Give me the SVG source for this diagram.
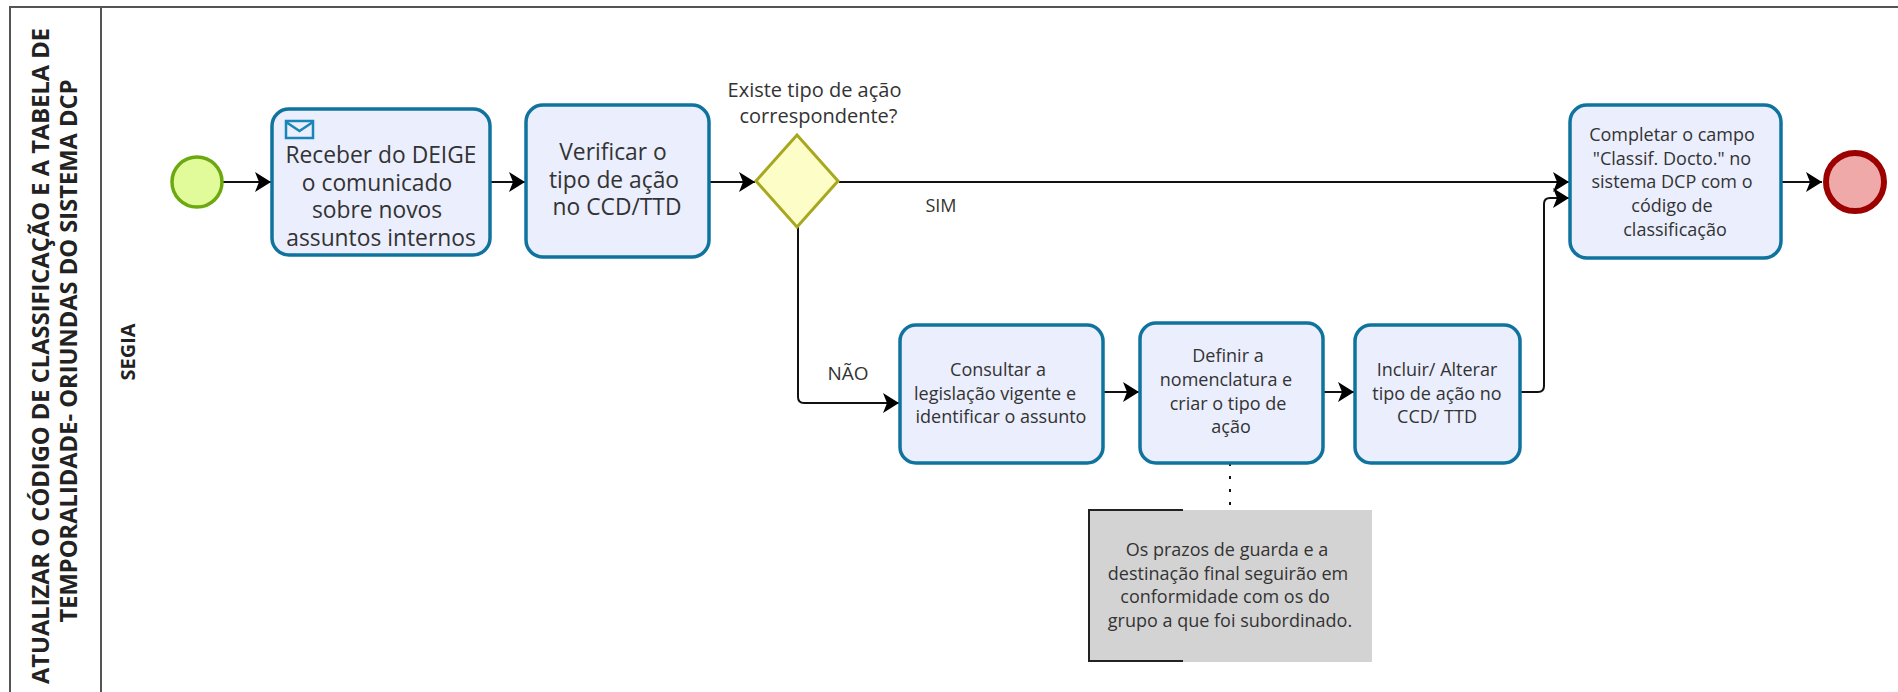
<svg xmlns="http://www.w3.org/2000/svg" width="1898" height="692" viewBox="0 0 1898 692">
<style>
text{font-family:"Open Sans","Noto Sans","Liberation Sans",sans-serif;fill:#333;text-anchor:middle}
.task{fill:#eaeefd;stroke:#10739e;stroke-width:3.5}
.c{fill:none;stroke:#111;stroke-width:2}
.t15{font-size:18px}.t16{font-size:20px}.t18{font-size:22.800px}
.b{font-weight:700;fill:#222}
</style>
<defs>
<marker id="arrow" markerUnits="userSpaceOnUse" markerWidth="18" markerHeight="22" refX="17" refY="11" orient="auto">
<path d="M1 1L17 11L1 21L5 11Z" fill="#000"/>
</marker>
</defs>
<rect width="1898" height="692" fill="#fff"/>
<g id="pool" fill="none" stroke="#555" stroke-width="2">
<path d="M1898 7H10V692"/>
<path d="M101 7V692"/>
</g>
<text class="b" font-size="23.700" transform="translate(49 356) rotate(-90)">ATUALIZAR O CÓDIGO DE CLASSIFICAÇÃO E A TABELA DE</text>
<text class="b" font-size="23.700" transform="translate(77 351) rotate(-90)">TEMPORALIDADE-  ORIUNDAS DO SISTEMA DCP</text>
<text class="b" font-size="20" transform="translate(135 352) rotate(-90)">SEGIA</text>
<g id="connectors">
<path class="c" marker-end="url(#arrow)" d="M223 182H271"/>
<path class="c" marker-end="url(#arrow)" d="M490 182H525"/>
<path class="c" marker-end="url(#arrow)" d="M709 182H755"/>
<path class="c" marker-end="url(#arrow)" d="M839 182H1569"/>
<path class="c" marker-end="url(#arrow)" d="M798 227V397Q798 403 804 403H899"/>
<path class="c" marker-end="url(#arrow)" d="M1103 392H1139"/>
<path class="c" marker-end="url(#arrow)" d="M1323 392H1354"/>
<path class="c" marker-end="url(#arrow)" d="M1520 392H1538Q1544 392 1544 386V204Q1544 198 1550 198H1569"/>
<path class="c" marker-end="url(#arrow)" d="M1781 182H1822"/>
<path d="M1230 463V506" fill="none" stroke="#111" stroke-width="2" stroke-dasharray="3 10"/>
<text font-size="18" x="941" y="212">SIM</text>
<text font-size="19" x="848" y="380">NÃO</text>
</g>
<g id="start"><circle cx="197" cy="182" r="25" fill="#e2fb9a" stroke="#6ca910" stroke-width="3.5"/></g>
<g id="task-receber">
<rect class="task" x="272" y="109" width="218" height="146" rx="17"/>
<g fill="none" stroke="#1a85b8" stroke-width="2.5"><rect x="286" y="121" width="27" height="17"/><path d="M286 122L299.500 131L313 122"/></g>
<text class="t18" x="381" y="163">Receber do DEIGE</text>
<text class="t18" x="377" y="191">o comunicado</text>
<text class="t18" x="377" y="218">sobre novos</text>
<text class="t18" x="381" y="246">assuntos internos</text>
</g>
<g id="task-verificar">
<rect class="task" x="526" y="105" width="183" height="152" rx="17"/>
<text class="t18" x="613" y="160">Verificar o</text>
<text class="t18" x="614" y="188">tipo de ação</text>
<text class="t18" x="617" y="215">no CCD/TTD</text>
</g>
<g id="gateway">
<path d="M797 135L838 181L797 227L756 181Z" fill="#fdfdc8" stroke="#a8a820" stroke-width="3"/>
<text class="t16" x="814.500" y="97">Existe tipo de ação</text>
<text class="t16" x="818.500" y="123">correspondente?</text>
</g>
<g id="task-completar">
<rect class="task" x="1570" y="105" width="211" height="153" rx="17"/>
<text class="t15" x="1672" y="141">Completar o campo</text>
<text class="t15" x="1672" y="165">"Classif. Docto." no</text>
<text class="t15" x="1672" y="188">sistema DCP com o</text>
<text class="t15" x="1672" y="212">código de</text>
<text class="t15" x="1675" y="236">classificação</text>
</g>
<g id="end"><circle cx="1855" cy="182" r="29" fill="#efa9a9" stroke="#9c0000" stroke-width="6"/></g>
<g id="task-consultar">
<rect class="task" x="900" y="325" width="203" height="138" rx="16"/>
<text class="t15" x="998" y="376">Consultar a</text>
<text class="t15" x="995" y="400">legislação vigente e</text>
<text class="t15" x="1001" y="423">identificar o assunto</text>
</g>
<g id="task-definir">
<rect class="task" x="1140" y="323" width="183" height="140" rx="16"/>
<text class="t15" x="1228" y="362">Definir a</text>
<text class="t15" x="1226" y="386">nomenclatura e</text>
<text class="t15" x="1228" y="410">criar o tipo de</text>
<text class="t15" x="1231" y="433">ação</text>
</g>
<g id="task-incluir">
<rect class="task" x="1355" y="325" width="165" height="138" rx="16"/>
<text class="t15" x="1437" y="376">Incluir/ Alterar</text>
<text class="t15" x="1437" y="400">tipo de ação no</text>
<text class="t15" x="1437" y="423">CCD/ TTD</text>
</g>
<g id="annotation">
<rect x="1088" y="510" width="284" height="152" fill="#d3d3d3"/>
<path d="M1183 510H1089V661H1183" fill="none" stroke="#222" stroke-width="2"/>
<text class="t15" x="1227" y="556">Os prazos de guarda e a</text>
<text class="t15" x="1228" y="580">destinação final seguirão em</text>
<text class="t15" x="1225" y="603">conformidade com os do</text>
<text class="t15" x="1230" y="627">grupo a que foi subordinado.</text>
</g>
</svg>
